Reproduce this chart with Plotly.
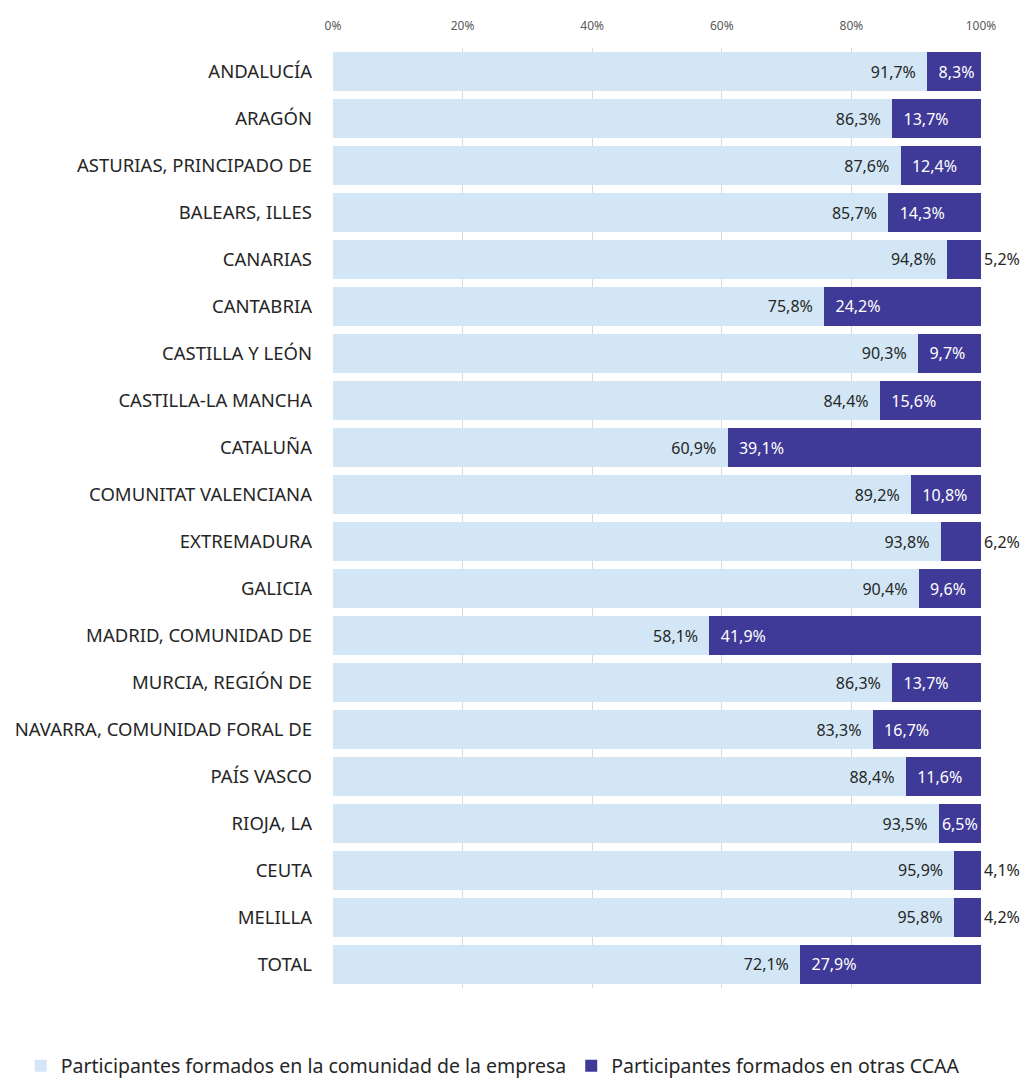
import plotly.graph_objects as go

regiones = [
    "ANDALUCÍA", "ARAGÓN", "ASTURIAS, PRINCIPADO DE", "BALEARS, ILLES", "CANARIAS",
    "CANTABRIA", "CASTILLA Y LEÓN", "CASTILLA-LA MANCHA", "CATALUÑA",
    "COMUNITAT VALENCIANA", "EXTREMADURA", "GALICIA", "MADRID, COMUNIDAD DE",
    "MURCIA, REGIÓN DE", "NAVARRA, COMUNIDAD FORAL DE", "PAÍS VASCO", "RIOJA, LA",
    "CEUTA", "MELILLA", "TOTAL",
]
misma_ccaa = [91.7, 86.3, 87.6, 85.7, 94.8, 75.8, 90.3, 84.4, 60.9, 89.2,
              93.8, 90.4, 58.1, 86.3, 83.3, 88.4, 93.5, 95.9, 95.8, 72.1]
otras_ccaa = [8.3, 13.7, 12.4, 14.3, 5.2, 24.2, 9.7, 15.6, 39.1, 10.8,
              6.2, 9.6, 41.9, 13.7, 16.7, 11.6, 6.5, 4.1, 4.2, 27.9]
ticks = [0, 20, 40, 60, 80, 100]

COLOR_CLARO = "#D2E6F5"
COLOR_OSCURO = "#3F3A97"
TEXTO = "#262626"
PAD = "\u00a0\u00a0"


def fmt(v):
    return f"{v:.1f}%".replace(".", ",")


# segments narrower than the label put it just past the bar end
pos_otras = ["outside" if v < 6.4 else "inside" for v in otras_ccaa]
col_otras = [TEXTO if p == "outside" else "white" for p in pos_otras]
txt_otras = [fmt(v) if (p == "outside" or v < 7) else PAD + fmt(v)
             for v, p in zip(otras_ccaa, pos_otras)]

fig = go.Figure()
fig.add_trace(go.Bar(
    y=regiones, x=misma_ccaa, orientation="h",
    name="Participantes formados en la comunidad de la empresa",
    marker=dict(color=COLOR_CLARO, line=dict(width=0)),
    text=[fmt(v) + PAD for v in misma_ccaa],
    textposition="inside", insidetextanchor="end",
    textfont=dict(color=TEXTO, size=16),
    hoverinfo="skip",
))
fig.add_trace(go.Bar(
    y=regiones, x=otras_ccaa, orientation="h",
    name="Participantes formados en otras CCAA",
    marker=dict(color=COLOR_OSCURO, line=dict(width=0)),
    text=txt_otras,
    textposition=pos_otras, insidetextanchor="start",
    textfont=dict(color=col_otras, size=16),
    outsidetextfont=dict(color=TEXTO, size=16),
    cliponaxis=False,
    hoverinfo="skip",
))

fig.update_layout(
    barmode="stack",
    bargap=0.19,
    width=1025, height=1082,
    margin=dict(l=333, r=44, t=48, b=94, autoexpand=False),
    paper_bgcolor="white", plot_bgcolor="white",
    font=dict(family="Noto Sans, Open Sans, sans-serif", color=TEXTO),
    uniformtext=dict(mode=False),
    xaxis=dict(
        side="top", range=[0, 100], tickmode="array",
        tickvals=ticks, ticktext=[f"{t}%" for t in ticks],
        showgrid=True, gridcolor="#D9D9D9", gridwidth=1,
        zeroline=False, showline=False,
        tickfont=dict(size=12, color="#595959"),
        ticklabelstandoff=15,
    ),
    yaxis=dict(
        autorange="reversed", showgrid=False, zeroline=False,
        tickfont=dict(size=18.5, color=TEXTO),
        ticks="", ticklabelstandoff=20,
    ),
    legend=dict(
        orientation="h", xref="paper", yref="paper",
        x=-0.482, xanchor="left", y=-0.083, yanchor="middle",
        font=dict(size=19.5, color=TEXTO),
        itemwidth=30, traceorder="normal",
    ),
)

fig.write_html("out.html")
